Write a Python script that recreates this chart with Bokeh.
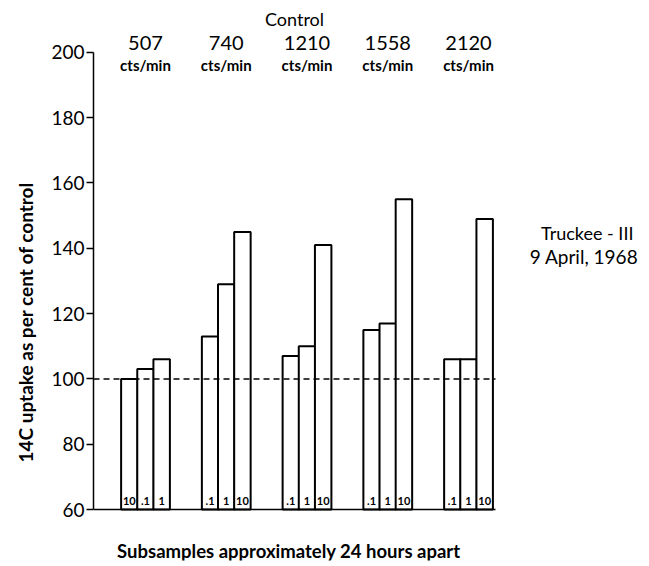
from bokeh.plotting import figure
from bokeh.models import ColumnDataSource, LabelSet, Label, Range1d, FixedTicker, Title
from bokeh.core.properties import value
from bokeh.embed import file_html
from bokeh.resources import INLINE

# ---- data ----
groups = [1, 2, 3, 4, 5]
control_counts = ["507", "740", "1210", "1558", "2120"]
bar_offsets = [-0.2, 0.0, 0.2]
bar_tags = [["10", ".1", "1"], [".1", "1", "10"], [".1", "1", "10"], [".1", "1", "10"], [".1", "1", "10"]]
uptake = [
    [100, 103, 106],
    [113, 129, 145],
    [107, 110, 141],
    [115, 117, 155],
    [106, 106, 149],
]
y_ticks = [60, 80, 100, 120, 140, 160, 180, 200]
control_level = 100

FONT = "Lato"
X_LO, X_HI = 0.356, 5.334   # extent of the drawn axes
Y_LO, Y_HI = 60, 200
X_MID = (X_LO + X_HI) / 2

xs, tops, tags = [], [], []
for g, vals, tg in zip(groups, uptake, bar_tags):
    for off, v, t in zip(bar_offsets, vals, tg):
        xs.append(g + off)
        tops.append(v)
        tags.append(t)

bars = ColumnDataSource(dict(x=xs, top=tops, tag=tags, tag_y=[61.3] * len(xs)))

p = figure(frame_width=553, frame_height=556, output_backend="svg", toolbar_location=None,
           x_range=Range1d(X_LO, 7.204), y_range=Range1d(44.38, 214.67),
           min_border_left=93, min_border_right=2, min_border_top=4, min_border_bottom=4)
p.outline_line_color = None
p.grid.visible = False
p.background_fill_color = "white"

p.vbar(x="x", top="top", bottom=Y_LO, width=0.204, source=bars,
       fill_color="white", line_color="black", line_width=2)

p.line(x=[X_LO, X_HI], y=[control_level, control_level], line_color="black",
       line_width=1.5, line_dash="6 4")

p.add_layout(LabelSet(x="x", y="tag_y", text="tag", source=bars, text_align="center",
                      text_baseline="bottom", text_font=value(FONT), text_font_style="bold",
                      text_font_size="11px", text_color="black"))

# y axis
p.yaxis.bounds = (Y_LO, Y_HI)
p.yaxis.ticker = FixedTicker(ticks=y_ticks)
p.yaxis.minor_tick_line_color = None
p.yaxis.major_tick_in = 0
p.yaxis.major_tick_out = 7
p.yaxis.major_tick_line_width = 1.5
p.yaxis.axis_line_width = 1.5
p.yaxis.major_label_text_font = FONT
p.yaxis.major_label_text_font_size = "19px"
p.yaxis.major_label_text_color = "black"
p.yaxis.major_label_standoff = 2

# x axis: bare line drawn at y = 60
p.xaxis.fixed_location = Y_LO
p.xaxis.bounds = (X_LO, X_HI)
p.xaxis.ticker = FixedTicker(ticks=[])
p.xaxis.major_tick_line_color = None
p.xaxis.minor_tick_line_color = None
p.xaxis.major_tick_out = 0
p.xaxis.major_label_standoff = 0
p.xaxis.major_label_text_font_size = "0px"
p.xaxis.axis_line_width = 1.5

# y axis title
p.add_layout(Title(text="14C uptake as per cent of control", align="left", offset=98,
                   standoff=19, vertical_align="top", text_font=FONT, text_font_style="bold",
                   text_font_size="19px", text_color="black"), "left")

# bottom caption
p.add_layout(Label(x=X_MID - 0.07, y=47.44, text="Subsamples approximately 24 hours apart",
                   text_align="center", text_baseline="middle", text_font=FONT,
                   text_font_style="bold", text_font_size="18.5px", text_color="black"))

# top labels
top = ColumnDataSource(dict(x=groups, y=[202.9] * 5, t=control_counts,
                            y2=[196.0] * 5, t2=["cts/min"] * 5))
p.add_layout(LabelSet(x="x", y="y", text="t", source=top, text_align="center",
                      text_baseline="middle", text_font=value(FONT), text_font_size="20px",
                      text_color="black"))
p.add_layout(LabelSet(x="x", y="y2", text="t2", source=top, text_align="center",
                      text_baseline="middle", text_font=value(FONT), text_font_style="bold",
                      text_font_size="15px", text_color="black"))
p.add_layout(Label(x=X_MID, y=210.2, text="Control", text_align="center", text_baseline="middle",
                   text_font=FONT, text_font_size="18px", text_color="black"))

# right annotation
p.add_layout(Label(x=6.47, y=144.8, text="Truckee - III", text_align="center", text_baseline="middle",
                   text_font=FONT, text_font_size="18px", text_color="black"))
p.add_layout(Label(x=6.43, y=137.5, text="9 April, 1968", text_align="center", text_baseline="middle",
                   text_font=FONT, text_font_size="19px", text_color="black"))

open("out.html", "w").write(file_html(p, INLINE))
